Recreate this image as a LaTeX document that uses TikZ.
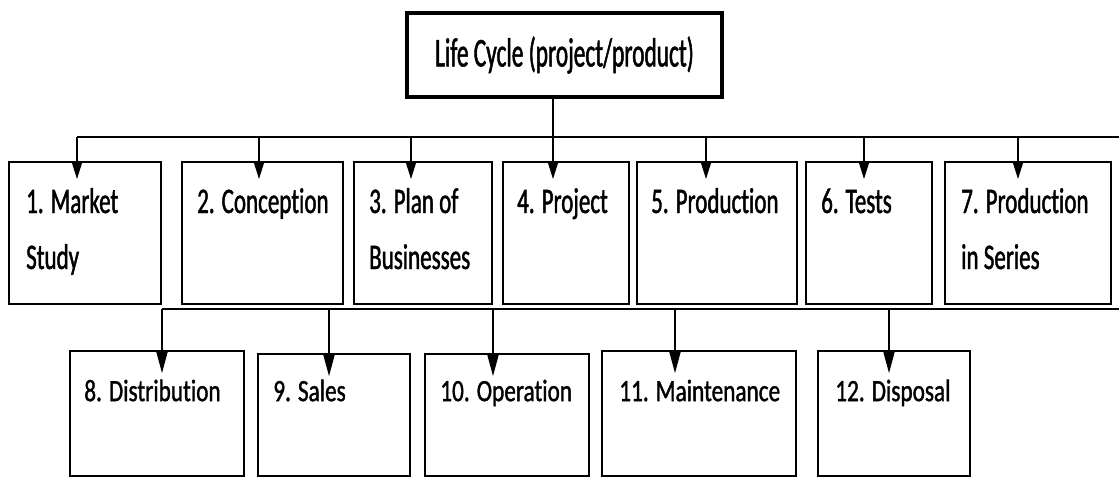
\documentclass[tikz,border=0pt]{standalone}
\usepackage{fontspec}
\setmainfont{Carlito}
\newfontfamily\titlefont{Carlito}[FakeStretch=0.57, FakeBold=1.2, RawFeature={-liga}]
\newfontfamily\boxfont{Carlito}[FakeStretch=0.64, FakeBold=1.2, RawFeature={-liga}]
\newfontfamily\lowfont{Carlito}[FakeStretch=0.75, FakeBold=1.2, RawFeature={-liga}]
\usetikzlibrary{arrows.meta}
\tikzset{
  box/.style={draw, line width=2pt, inner sep=0pt},
  lbl/.style={anchor=base west, inner sep=0pt, font=\fontsize{36}{56}\boxfont},
  lowlbl/.style={anchor=base west, inner sep=0pt, font=\fontsize{31}{50}\lowfont},
  arr/.style={-{Triangle[width=11pt,length=18pt]}, line width=1.3pt, shorten >=-18pt},
  lowarr/.style={-{Triangle[width=11pt,length=21pt]}, line width=1.3pt, shorten >=-23pt}
}
\begin{document}
\begin{tikzpicture}[x=1pt,y=-1pt]
          \useasboundingbox (0,0) rectangle (1119,477);
          \node[box, line width=3.3pt, minimum width=315pt, minimum height=84pt, font=\fontsize{41}{41}\titlefont] (top) at (564.5,55) {Life Cycle (project/product)};
          % first row
          \node[box, minimum width=152pt, minimum height=142pt, label={[lbl,xshift=18pt,yshift=-52pt]north west:{\parbox[t]{6cm}{1. Market\\Study}}}] (b1) at (85,233) {};
          \node[box, minimum width=161pt, minimum height=142pt, label={[lbl,xshift=16pt,yshift=-52pt]north west:{\parbox[t]{6cm}{2. Conception}}}] (b2) at (262.5,233) {};
          \node[box, minimum width=138pt, minimum height=142pt, label={[lbl,xshift=16pt,yshift=-52pt]north west:{\parbox[t]{6cm}{3. Plan of\\Businesses}}}] (b3) at (423,233) {};
          \node[box, minimum width=126pt, minimum height=142pt, label={[lbl,xshift=15pt,yshift=-52pt]north west:{\parbox[t]{6cm}{4. Project}}}] (b4) at (566,233) {};
          \node[box, minimum width=160pt, minimum height=142pt, label={[lbl,xshift=15pt,yshift=-52pt]north west:{\parbox[t]{6cm}{5. Production}}}] (b5) at (717,233) {};
          \node[box, minimum width=126pt, minimum height=142pt, label={[lbl,xshift=16pt,yshift=-52pt]north west:{\parbox[t]{6cm}{6. Tests}}}] (b6) at (869,233) {};
          \node[box, minimum width=166pt, minimum height=142pt, label={[lbl,xshift=17pt,yshift=-52pt]north west:{\parbox[t]{6cm}{7. Production\\in Series}}}] (b7) at (1028,233) {};
          % second row
          \node[box, line width=1.8pt, minimum width=174pt, minimum height=125pt, label={[lowlbl,xshift=15pt,yshift=-51pt]north west:{8. Distribution}}] (b8) at (157,413.5) {};
          \node[box, line width=1.8pt, minimum width=152pt, minimum height=122pt, label={[lowlbl,xshift=16pt,yshift=-48pt]north west:{9. Sales}}] (b9) at (334,415) {};
          \node[box, line width=1.8pt, minimum width=164pt, minimum height=122pt, label={[lowlbl,xshift=16pt,yshift=-48pt]north west:{10. Operation}}] (b10) at (507,415) {};
          \node[box, line width=1.8pt, minimum width=194pt, minimum height=125pt, label={[lowlbl,xshift=18pt,yshift=-51pt]north west:{11. Maintenance}}] (b11) at (699,413.5) {};
          \node[box, line width=1.8pt, minimum width=152pt, minimum height=125pt, label={[lowlbl,xshift=18pt,yshift=-51pt]north west:{12. Disposal}}] (b12) at (894,413.5) {};
          \coordinate (r1) at (1119,137);
          \coordinate (r2) at (1119,309);
          % connectors, first row
          \draw[line width=2pt] ([xshift=-8pt]b1.north |- r1) -- (r1);
          \draw[arr] ([xshift=-11.5pt]top.south) -- ([xshift=-13pt]b4.north);
          \draw[arr] ([xshift=-8pt]b1.north |- r1) -- ([xshift=-8pt]b1.north);
          \draw[arr] ([xshift=-3.5pt]b2.north |- r1) -- ([xshift=-3.5pt]b2.north);
          \draw[arr] ([xshift=-12pt]b3.north |- r1) -- ([xshift=-12pt]b3.north);
          \draw[arr] ([xshift=-11pt]b5.north |- r1) -- ([xshift=-11pt]b5.north);
          \draw[arr] ([xshift=-5pt]b6.north |- r1) -- ([xshift=-5pt]b6.north);
          \draw[arr] ([xshift=-10pt]b7.north |- r1) -- ([xshift=-10pt]b7.north);
          % connectors, second row
          \draw[line width=2.5pt] ([xshift=5pt]b8.north |- r2) -- (r2);
          \draw[lowarr] ([xshift=5pt]b8.north |- r2) -- ([xshift=5pt]b8.north);
          \draw[lowarr] ([xshift=-5pt]b9.north |- r2) -- ([xshift=-5pt]b9.north);
          \draw[lowarr] ([xshift=-14pt]b10.north |- r2) -- ([xshift=-14pt]b10.north);
          \draw[lowarr] ([xshift=-24pt]b11.north |- r2) -- ([xshift=-24pt]b11.north);
          \draw[lowarr] ([xshift=-5pt]b12.north |- r2) -- ([xshift=-5pt]b12.north);
\end{tikzpicture}
\end{document}
